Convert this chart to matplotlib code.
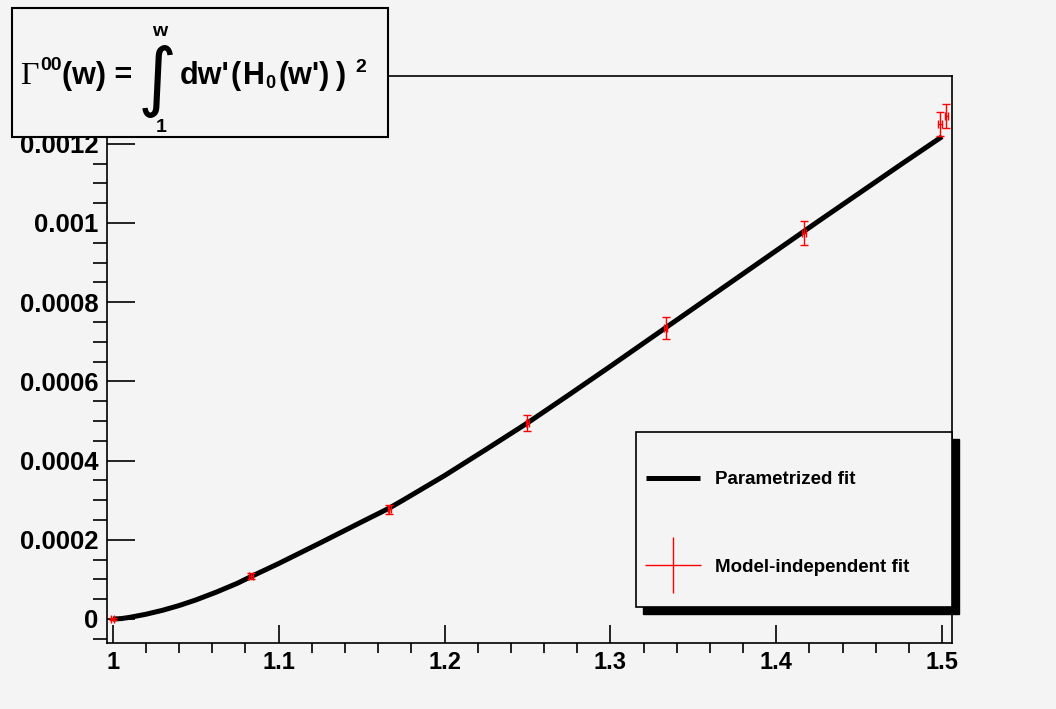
import matplotlib
matplotlib.use("Agg")
import matplotlib.pyplot as plt
import matplotlib.patches as patches
from matplotlib.lines import Line2D
from matplotlib.ticker import MultipleLocator

plt.rcParams['font.family'] = ['Liberation Sans', 'DejaVu Sans']
plt.rcParams['font.weight'] = 'bold'

# --- data ---
fit_w = [1.0, 1.005, 1.01, 1.02, 1.03, 1.04, 1.05, 1.0625, 1.075, 1.0833, 1.1, 1.125,
         1.15, 1.1667, 1.175, 1.2, 1.225, 1.25, 1.275, 1.3, 1.325, 1.35, 1.375,
         1.4, 1.425, 1.45, 1.475, 1.5]
fit_gamma = [0.0, 0.000001, 0.000004, 0.000012, 0.000022, 0.000034, 0.000048,
             0.000068, 0.000090, 0.000107, 0.000140, 0.000192, 0.000245,
             0.000280, 0.000300, 0.000362, 0.000428, 0.000495, 0.000566,
             0.000638, 0.000711, 0.000784, 0.000857, 0.000930, 0.001003,
             0.001075, 0.001147, 0.001218]

pts_w = [1.0, 1.0833, 1.1667, 1.25, 1.3333, 1.4167, 1.4988, 1.5025]
pts_gamma = [0.0, 0.000109, 0.000277, 0.000495, 0.000735, 0.000975, 0.00125, 0.00127]
pts_err = [0.000002, 0.000008, 0.000012, 0.00002, 0.000028, 0.00003, 0.00003, 0.00003]

bg = '#f4f4f4'
fig = plt.figure(figsize=(10.56, 7.09), dpi=100, facecolor=bg)
ax = fig.add_axes([107/1056, 1 - 643/709, 845/1056, 567/709], facecolor=bg)

curve, = ax.plot(fit_w, fit_gamma, color='black', lw=3.6, solid_capstyle='butt',
                 solid_joinstyle='round', zorder=2)
ax.errorbar(pts_w, pts_gamma, yerr=pts_err, xerr=0.001, fmt='none', ecolor='red',
            elinewidth=1, capsize=3, capthick=1, zorder=3)

ax.set_xlim(0.9965, 1.506)
ax.set_ylim(-0.0000606, 0.001371)
ax.xaxis.set_major_locator(MultipleLocator(0.1))
ax.xaxis.set_minor_locator(MultipleLocator(0.02))
ax.yaxis.set_major_locator(MultipleLocator(0.0002))
ax.yaxis.set_minor_locator(MultipleLocator(0.00005))
ax.xaxis.set_major_formatter(plt.FuncFormatter(lambda v, p: f'{v:g}'))
ax.yaxis.set_major_formatter(plt.FuncFormatter(lambda v, p: '0' if abs(v) < 1e-12 else f'{v:.4f}'.rstrip('0')))
ax.tick_params(axis='both', direction='in', top=False, right=False, width=1.2)
ax.tick_params(axis='x', labelsize=17)
ax.tick_params(axis='y', labelsize=18.5)
ax.tick_params(axis='y', which='major', length=20, pad=6)
ax.tick_params(axis='y', which='minor', length=10, width=1.2)
ax.tick_params(axis='x', which='major', length=13, pad=6)
ax.tick_params(axis='x', which='minor', length=7, width=1.2)
for lab in ax.get_xticklabels() + ax.get_yticklabels():
    lab.set_fontweight('bold')
for s in ax.spines.values():
    s.set_linewidth(1.2)

# --- legend box with shadow ---
W, H = 1056, 709
lx0, ly0, lx1, ly1 = 636, 432, 952, 607
fig.patches.append(patches.Rectangle(((lx0 + 7) / W, 1 - (ly1 + 7) / H), (lx1 - lx0) / W, (ly1 - ly0) / H,
                                     transform=fig.transFigure, facecolor='black', edgecolor='black', zorder=5))
fig.patches.append(patches.Rectangle((lx0 / W, 1 - ly1 / H), (lx1 - lx0) / W, (ly1 - ly0) / H,
                                     transform=fig.transFigure, facecolor=bg, edgecolor='black', lw=1.2, zorder=6))
cross = Line2D([], [], color='red', marker='+', markersize=41, markeredgewidth=1, linestyle='none')
leg = fig.legend([curve, cross], ['Parametrized fit', 'Model-independent fit'],
                 loc='upper left', bbox_to_anchor=(646 / W, 1 - 471 / H), frameon=False,
                 fontsize=13.5, handlelength=2.9, labelspacing=3.75, handletextpad=0.8,
                 borderpad=0, borderaxespad=0)
leg.set_zorder(7)
for t in leg.get_texts():
    t.set_fontweight('bold')

# --- title box ---
tx0, ty0, tx1, ty1 = 12, 8, 388, 137
fig.patches.append(patches.Rectangle((tx0 / W, 1 - ty1 / H), (tx1 - tx0) / W, (ty1 - ty0) / H,
                                     transform=fig.transFigure, facecolor=bg, edgecolor='black', lw=1.5, zorder=6))
tk = dict(transform=fig.transFigure, zorder=7, fontweight='bold', va='center')
fig.text(20 / W, 1 - 76 / H, '\u0393', fontsize=23, family='Liberation Serif', fontweight='normal',
         transform=fig.transFigure, zorder=7, va='center')
fig.text(40 / W, 1 - 66 / H, '00', fontsize=14, **tk)
fig.text(62 / W, 1 - 76 / H, '(w) =', fontsize=22, **tk)
fig.text(157 / W, 1 - 82 / H, '\u222b', fontsize=54, family='DejaVu Sans', fontweight='normal',
         transform=fig.transFigure, zorder=7, va='center', ha='center')
fig.text(160 / W, 1 - 31 / H, 'w', fontsize=14, ha='center', **tk)
fig.text(161 / W, 1 - 127 / H, '1', fontsize=14, ha='center', **tk)
fig.text(180 / W, 1 - 76 / H, "dw'", fontsize=22, **tk)
fig.text(230 / W, 1 - 76 / H, '(', fontsize=22, **tk)
fig.text(243 / W, 1 - 76 / H, 'H', fontsize=22, **tk)
fig.text(265 / W, 1 - 84 / H, '0', fontsize=13, **tk)
fig.text(279 / W, 1 - 76 / H, "(w')", fontsize=22, **tk)
fig.text(336 / W, 1 - 76 / H, ')', fontsize=22, **tk)
fig.text(355 / W, 1 - 68 / H, '2', fontsize=14, **tk)

fig.savefig('out.png', dpi=100, facecolor=bg)
